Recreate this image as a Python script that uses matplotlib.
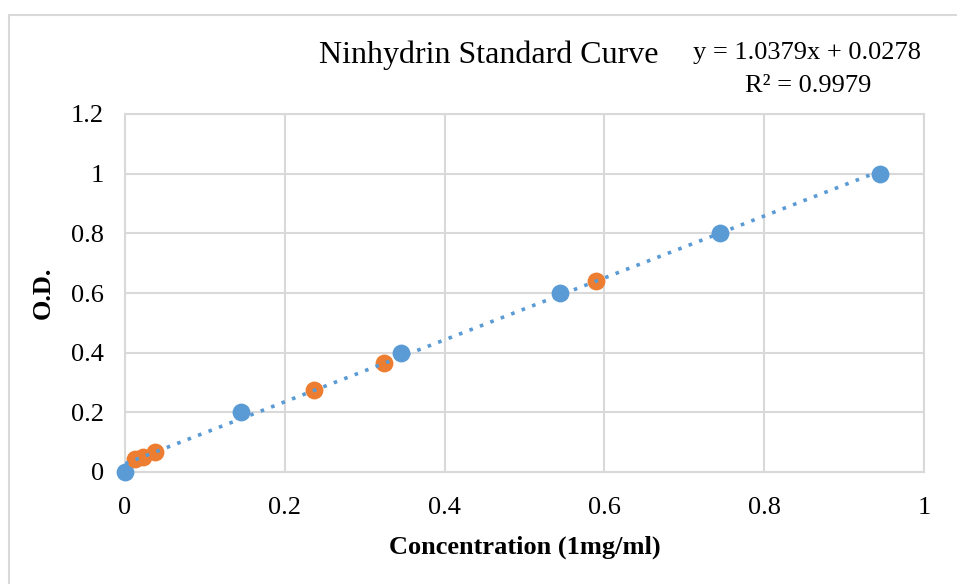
import matplotlib
matplotlib.use("Agg")
import matplotlib.pyplot as plt
from matplotlib.patches import Rectangle

plt.rcParams['font.family'] = ['Liberation Serif', 'DejaVu Serif']

# standards (blue) and samples (orange)
std_x = [0, 0.145, 0.345, 0.545, 0.745, 0.945]
std_y = [0, 0.2, 0.4, 0.6, 0.8, 1.0]
smp_x = [0.0125, 0.023, 0.037, 0.237, 0.324, 0.589]
smp_y = [0.044, 0.051, 0.066, 0.274, 0.365, 0.640]
slope, intercept = 1.0379, 0.0278
fit_x = [0, 0.945]
fit_y = [slope * v + intercept for v in fit_x]

blue = '#5B9BD5'
orange = '#ED7D31'
grid = '#D9D9D9'

fig = plt.figure(figsize=(9.57, 5.84), dpi=100)
# chart area border (clipped at right/bottom like the screenshot)
fig.patches.append(Rectangle((9 / 957, -0.1), 1.2, 1 - 15 / 584 + 0.1,
                             transform=fig.transFigure, fill=False,
                             edgecolor=grid, linewidth=1.5))

ax = fig.add_axes([125 / 957, 1 - 472 / 584, 799 / 957, 358 / 584])
ax.scatter(std_x, std_y, s=165, color=blue, zorder=3, linewidths=0, clip_on=False)
ax.scatter(smp_x, smp_y, s=165, color=orange, zorder=3, linewidths=0, clip_on=False)
ax.plot(fit_x, fit_y, color=blue, linewidth=2.6, linestyle=(0, (1, 2.1)),
        dash_capstyle='butt', zorder=4)

ax.set_xlim(0, 1)
ax.set_ylim(0, 1.2)
ax.set_xticks([0, 0.2, 0.4, 0.6, 0.8, 1])
ax.set_xticklabels(['0', '0.2', '0.4', '0.6', '0.8', '1'])
ax.set_yticks([0, 0.2, 0.4, 0.6, 0.8, 1, 1.2])
ax.set_yticklabels(['0', '0.2', '0.4', '0.6', '0.8', '1', '1.2'])
ax.tick_params(length=0, labelsize=19)
ax.tick_params(axis='y', pad=15)
ax.tick_params(axis='x', pad=18)
ax.grid(True, color=grid, linewidth=1.5)
ax.set_axisbelow(True)
for s in ax.spines.values():
    s.set_color(grid)
    s.set_linewidth(1.5)

ax.set_xlabel('Concentration (1mg/ml)', fontsize=19, fontweight='bold', labelpad=12)
ax.set_ylabel('O.D.', fontsize=19, fontweight='bold', labelpad=12)

fig.text(489 / 957, 1 - 55 / 584, 'Ninhydrin Standard Curve', fontsize=23,
         ha='center', va='center')
fig.text(807 / 957, 1 - 53 / 584, 'y = 1.0379x + 0.0278', fontsize=19,
         ha='center', va='center')
fig.text(808 / 957, 1 - 86 / 584, 'R² = 0.9979', fontsize=19,
         ha='center', va='center')

fig.savefig('out.png', dpi=100)
